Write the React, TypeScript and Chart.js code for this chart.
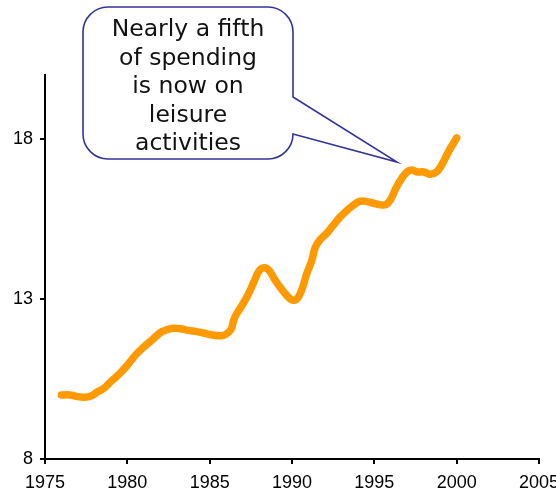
import React, { useEffect, useRef } from "react";
import { Chart, registerables } from "chart.js";

Chart.register(...registerables);

const years: number[] = [
  1976.0, 1976.5, 1977.0, 1977.4, 1977.8, 1978.2, 1978.6, 1979.0, 1979.5, 1980.0,
  1980.5, 1981.0, 1981.5, 1982.0, 1982.3, 1982.7, 1983.2, 1983.7, 1984.2, 1984.7,
  1985.2, 1985.7, 1986.0, 1986.3, 1986.5, 1986.9, 1987.3, 1987.7, 1988.0, 1988.3,
  1988.6, 1988.9, 1989.3, 1989.7, 1990.0, 1990.3, 1990.6, 1990.9, 1991.2, 1991.4,
  1991.7, 1992.1, 1992.5, 1992.9, 1993.3, 1993.7, 1994.1, 1994.5, 1994.9, 1995.3,
  1995.7, 1996.0, 1996.3, 1996.7, 1997.0, 1997.3, 1997.6, 1998.0, 1998.4, 1998.8,
  1999.1, 1999.5, 2000.0,
];

const leisureShare: number[] = [
  10.0, 10.0, 9.95, 9.93, 9.97, 10.1, 10.22, 10.42, 10.65, 10.93,
  11.25, 11.5, 11.72, 11.95, 12.02, 12.08, 12.07, 12.02, 11.98, 11.93,
  11.87, 11.85, 11.9, 12.05, 12.4, 12.75, 13.1, 13.55, 13.88, 13.98,
  13.9, 13.65, 13.35, 13.1, 12.97, 13.0, 13.3, 13.8, 14.2, 14.6,
  14.85, 15.05, 15.3, 15.55, 15.75, 15.92, 16.05, 16.05, 16.0, 15.95,
  15.95, 16.12, 16.45, 16.8, 16.98, 17.03, 16.97, 16.97, 16.9, 16.98,
  17.2, 17.6, 18.03,
];

const yTickValues: number[] = [8, 13, 18];
const calloutLines: string[] = [
  "Nearly a fifth",
  "of spending",
  "is now on",
  "leisure",
  "activities",
];

const calloutPlugin = {
  id: "callout",
  afterDraw(chart: any) {
    const ctx = chart.ctx as CanvasRenderingContext2D;
    const L = 83, R = 293, T = 7, B = 159, r = 25;
    const tipX = 397, tipY = 162, baseTop = 97, baseBot = 134;
    ctx.save();
    ctx.beginPath();
    ctx.moveTo(L + r, T);
    ctx.lineTo(R - r, T);
    ctx.arcTo(R, T, R, T + r, r);
    ctx.lineTo(R, baseTop);
    ctx.lineTo(tipX, tipY);
    ctx.lineTo(R, baseBot);
    ctx.arcTo(R, B, R - r, B, r);
    ctx.lineTo(L + r, B);
    ctx.arcTo(L, B, L, B - r, r);
    ctx.lineTo(L, T + r);
    ctx.arcTo(L, T, L + r, T, r);
    ctx.closePath();
    ctx.fillStyle = "#ffffff";
    ctx.fill();
    ctx.strokeStyle = "#333399";
    ctx.lineWidth = 1.6;
    ctx.stroke();
    ctx.fillStyle = "#111111";
    ctx.font = "23.5px 'DejaVu Sans'";
    ctx.textAlign = "center";
    ctx.textBaseline = "alphabetic";
    const cx = (L + R) / 2;
    calloutLines.forEach((line, i) => {
      ctx.fillText(line, cx, 36 + i * 28.5);
    });
    ctx.restore();
  },
};

export default function App() {
  const canvasRef = useRef<HTMLCanvasElement | null>(null);

  useEffect(() => {
    if (!canvasRef.current) return;
    const chart = new Chart(canvasRef.current, {
      type: "line",
      data: {
        datasets: [
          {
            data: years.map((y, i) => ({ x: y, y: leisureShare[i] })),
            borderColor: "#FF9900",
            borderWidth: 7.5,
            borderCapStyle: "round",
            borderJoinStyle: "round",
            pointRadius: 0,
            tension: 0.4,
            fill: false,
          },
        ],
      },
      options: {
        animation: false,
        responsive: true,
        maintainAspectRatio: false,
        layout: { padding: { top: 75, right: 17, left: 0, bottom: 0 } },
        plugins: {
          legend: { display: false },
          tooltip: { enabled: false },
        },
        scales: {
          x: {
            type: "linear",
            min: 1975,
            max: 2005,
            afterFit: (s: any) => {
              s.height = 35;
              s.paddingLeft = 0;
              s.paddingRight = 0;
            },
            ticks: {
              stepSize: 5,
              color: "#000",
              padding: 8,
              maxRotation: 0,
              font: { family: "'Liberation Sans', Arial", size: 18 },
              callback: (v: any) => String(v),
            },
            grid: {
              display: true,
              drawOnChartArea: false,
              drawTicks: true,
              tickLength: 5,
              color: "#000",
              lineWidth: 2,
            },
            border: { display: true, color: "#000", width: 2 },
          },
          y: {
            type: "linear",
            min: 8,
            max: 20,
            afterBuildTicks: (s: any) => {
              s.ticks = yTickValues.map((v) => ({ value: v }));
            },
            afterFit: (s: any) => {
              s.width = 45;
              s.paddingTop = 0;
              s.paddingBottom = 0;
            },
            ticks: {
              color: "#000",
              padding: 7,
              font: { family: "'Liberation Sans', Arial", size: 18 },
            },
            grid: {
              display: true,
              drawOnChartArea: false,
              drawTicks: true,
              tickLength: 5,
              color: "#000",
              lineWidth: 2,
            },
            border: { display: true, color: "#000", width: 2 },
          },
        },
      },
      plugins: [calloutPlugin],
    });
    return () => chart.destroy();
  }, []);

  return (
    <div
      style={{
        position: "absolute",
        left: 0,
        top: 0,
        width: 556,
        height: 494,
        background: "#fff",
      }}
    >
      <canvas ref={canvasRef} />
    </div>
  );
}
